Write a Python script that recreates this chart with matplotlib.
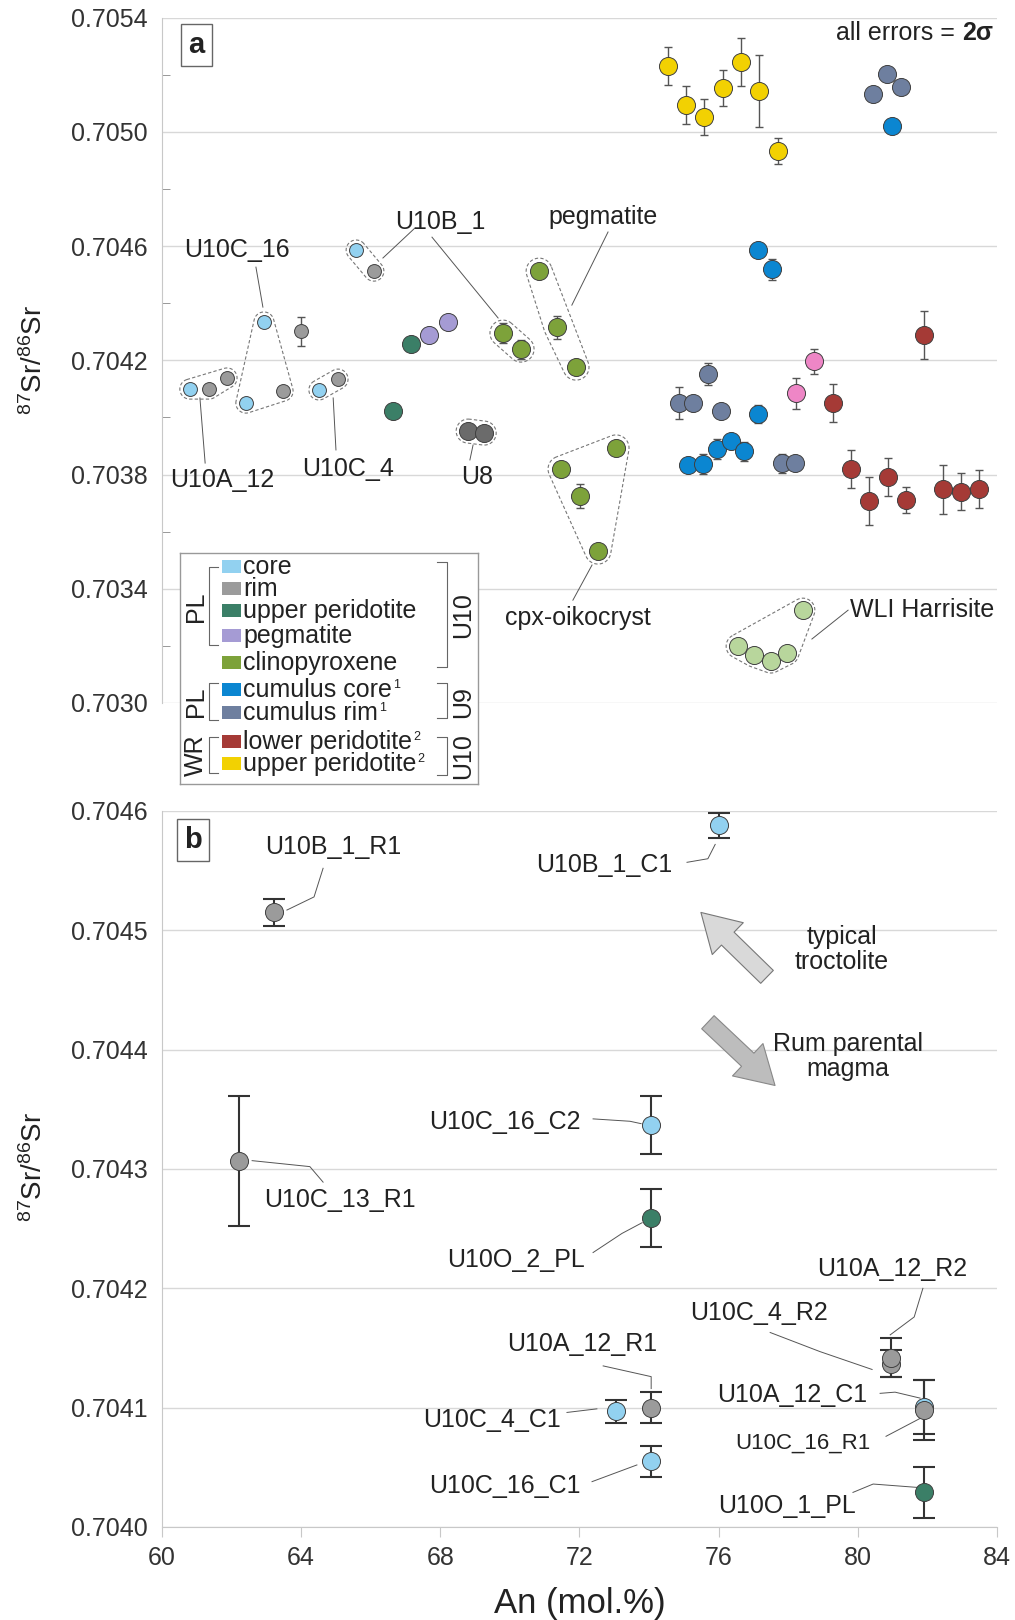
import numpy as np
import matplotlib
matplotlib.use('Agg')
import matplotlib.pyplot as plt
from matplotlib.patches import Rectangle, FancyArrowPatch, ArrowStyle
from matplotlib.ticker import FormatStrFormatter

plt.rcParams.update({'font.family': ['Liberation Sans', 'DejaVu Sans'],
                     'font.size': 18,
                     'mathtext.fontset': 'custom',
                     'mathtext.rm': 'Liberation Sans',
                     'mathtext.it': 'Liberation Sans:italic',
                     'mathtext.bf': 'Liberation Sans:bold',
                     'text.color': '#222222'})

# ---------------- panel a data (An mol.%, 87Sr/86Sr, 2 sigma) ----------------
core_x = [60.80, 62.41, 62.93, 64.51, 65.58]
core_y = [0.704099, 0.704050, 0.704334, 0.704096, 0.704586]
core_e = [0, 0, 0.000010, 0, 0]

rim_x = [61.35, 61.87, 63.48, 64.00, 65.06, 66.09]
rim_y = [0.704099, 0.704138, 0.704092, 0.704302, 0.704134, 0.704512]
rim_e = [0, 0, 0.000008, 0.000051, 0, 0]

uperpl_x = [66.64, 67.16]
uperpl_y = [0.704022, 0.704257]
uperpl_e = [0, 0]

peg_x = [67.67, 68.22]
peg_y = [0.704288, 0.704334]
peg_e = [0, 0]

cpx_x = [69.80, 70.32, 70.84, 71.35, 71.90, 71.47, 72.02, 72.53, 73.05]
cpx_y = [0.704295, 0.704239, 0.704512, 0.704316, 0.704176, 0.703819, 0.703725, 0.703532, 0.703893]
cpx_e = [0.000035, 0.000033, 0, 0.000040, 0, 0, 0.000041, 0, 0]

cumcore_x = [80.98, 77.13, 77.53, 77.13, 75.12, 75.55, 75.95, 76.36, 76.73]
cumcore_y = [0.705020, 0.704586, 0.704519, 0.704012, 0.703833, 0.703837, 0.703889, 0.703917, 0.703882]
cumcore_e = [0, 0, 0.000037, 0.000032, 0, 0.000035, 0.000034, 0, 0.000033]

cumrim_x = [80.44, 80.84, 81.24, 75.70, 74.86, 75.26, 76.07, 77.82, 78.19]
cumrim_y = [0.705132, 0.705202, 0.705157, 0.704152, 0.704050, 0.704050, 0.704022, 0.703840, 0.703840]
cumrim_e = [0, 0, 0, 0.000038, 0.000056, 0, 0, 0.000033, 0]

lowper_x = [81.90, 79.29, 79.80, 80.32, 80.87, 81.39, 82.45, 82.97, 83.48]
lowper_y = [0.704288, 0.704050, 0.703819, 0.703707, 0.703791, 0.703711, 0.703749, 0.703740, 0.703749]
lowper_e = [0.000083, 0.000067, 0.000066, 0.000083, 0.000066, 0.000046, 0.000086, 0.000066, 0.000066]

upper_x = [74.54, 75.06, 75.58, 76.12, 76.64, 77.16, 77.71]
upper_y = [0.705230, 0.705094, 0.705052, 0.705153, 0.705244, 0.705143, 0.704933]
upper_e = [0.000066, 0.000066, 0.000063, 0.000063, 0.000084, 0.000126, 0.000045]

pink_x = [78.74, 78.22]
pink_y = [0.704197, 0.704085]
pink_e = [0.000044, 0.000054]

u8_x = [68.80, 69.26]
u8_y = [0.703952, 0.703945]
u8_e = [0, 0]

wli_x = [76.56, 77.02, 77.50, 77.96, 78.42]
wli_y = [0.703199, 0.703168, 0.703147, 0.703175, 0.703325]
wli_e = [0, 0, 0, 0, 0]

C_CORE, C_RIM, C_TEAL, C_PEG, C_CPX = '#92d1f0', '#9b9b9b', '#3b7f67', '#a59bd4', '#7da23a'
C_CUMC, C_CUMR, C_LOW, C_UP = '#0b86d1', '#6e7f9f', '#a53a36', '#f2d102'
C_PINK, C_U8, C_WLI = '#ee86c6', '#6b6b6b', '#b8d69c'

# ---------------- panel b data ----------------
bcore_lab = ['U10B_1_C1', 'U10C_16_C2', 'U10C_4_C1', 'U10C_16_C1', 'U10A_12_C1']
bcore_x = [76.01, 74.05, 73.05, 74.05, 81.90]
bcore_y = [0.704588, 0.704337, 0.704097, 0.704055, 0.7041005]
bcore_e = [0.0000105, 0.0000245, 0.0000098, 0.0000128, 0.0000225]

brim_lab = ['U10B_1_R1', 'U10C_13_R1', 'U10A_12_R1', 'U10C_4_R2', 'U10A_12_R2', 'U10C_16_R1']
brim_x = [63.22, 62.21, 74.05, 80.95, 80.95, 81.90]
brim_y = [0.704515, 0.704307, 0.704100, 0.704137, 0.704142, 0.704098]
brim_e = [0.000011, 0.0000545, 0.0000128, 0.000011, 0.000016, 0.000025]

bteal_lab = ['U10O_2_PL', 'U10O_1_PL']
bteal_x = [74.05, 81.90]
bteal_y = [0.704259, 0.704029]
bteal_e = [0.000024, 0.0000214]

legend_names = ['core', 'rim', 'upper peridotite', 'pegmatite', 'clinopyroxene',
                'cumulus core', 'cumulus rim', 'lower peridotite', 'upper peridotite']
legend_sup = ['', '', '', '', '', '1', '1', '2', '2']
legend_colors = [C_CORE, C_RIM, C_TEAL, C_PEG, C_CPX, C_CUMC, C_CUMR, C_LOW, C_UP]

W, H = 1015, 1620
fig = plt.figure(figsize=(W / 100, H / 100), dpi=100)
axa = fig.add_axes([162 / W, 1 - 703 / H, 835 / W, 685.5 / H])
axb = fig.add_axes([162 / W, 1 - 1527 / H, 835 / W, 716 / H])


def base_axis(ax, ylo, yhi, step):
    ax.set_xlim(60, 84)
    ax.set_ylim(ylo, yhi)
    n = int(round((yhi - ylo) / step))
    ax.set_yticks([ylo + i * step for i in range(n + 1)])
    ax.yaxis.set_major_formatter(FormatStrFormatter('%.4f'))
    ax.grid(axis='y', color='#d8d8d8', lw=1)
    ax.set_axisbelow(True)
    for s in ['top', 'right']:
        ax.spines[s].set_visible(False)
    ax.spines['left'].set_color('#c8c8c8')
    ax.tick_params(axis='y', length=0, pad=10, labelsize=18, labelcolor='#333333')


def points(ax, x, y, e, color, ms, ecol='#555555', elw=1.0, cap=3.2):
    ax.errorbar(x, y, yerr=e, fmt='none', ecolor=ecol, elinewidth=elw,
                capsize=cap, capthick=elw, zorder=2)
    ax.plot(x, y, 'o', ms=ms, mfc=color, mec='#404040', mew=0.7, zorder=3, clip_on=False)


def hull_outline(ax, xs, ys, r):
    pts = ax.transData.transform(np.column_stack([xs, ys]))
    p = sorted(map(tuple, pts))
    def cross(o, a, b):
        return (a[0] - o[0]) * (b[1] - o[1]) - (a[1] - o[1]) * (b[0] - o[0])
    lower, upper = [], []
    for q in p:
        while len(lower) >= 2 and cross(lower[-2], lower[-1], q) <= 0:
            lower.pop()
        lower.append(q)
    for q in reversed(p):
        while len(upper) >= 2 and cross(upper[-2], upper[-1], q) <= 0:
            upper.pop()
        upper.append(q)
    hull = np.array(lower[:-1] + upper[:-1])
    n = len(hull)
    out = []
    for i in range(n):
        v = hull[i]
        e_in = v - hull[i - 1]
        e_out = hull[(i + 1) % n] - v
        a0 = np.arctan2(-e_in[0], e_in[1])
        a1 = np.arctan2(-e_out[0], e_out[1])
        if a1 < a0:
            a1 += 2 * np.pi
        t = np.linspace(a0, a1, 24)
        out.append(np.column_stack([v[0] + r * np.cos(t), v[1] + r * np.sin(t)]))
    out = np.vstack(out + [out[0][:1]])
    d = ax.transData.inverted().transform(out)
    ax.plot(d[:, 0], d[:, 1], color='#777777', lw=0.8, ls=(0, (3, 2)), zorder=1.5)


# ---------------- panel a ----------------
base_axis(axa, 0.7030, 0.7054, 0.0004)
axa.set_yticks([0.7032 + i * 0.0004 for i in range(6)], minor=True)
axa.tick_params(axis='y', which='minor', direction='in', length=6, color='#888888')
axa.spines['bottom'].set_visible(False)
axa.set_xticks([])

points(axa, core_x, core_y, core_e, C_CORE, 10)
points(axa, rim_x, rim_y, rim_e, C_RIM, 10)
points(axa, uperpl_x, uperpl_y, uperpl_e, C_TEAL, 13)
points(axa, peg_x, peg_y, peg_e, C_PEG, 13)
points(axa, cpx_x, cpx_y, cpx_e, C_CPX, 13)
points(axa, u8_x, u8_y, u8_e, C_U8, 13)
points(axa, upper_x, upper_y, upper_e, C_UP, 13)
points(axa, cumrim_x, cumrim_y, cumrim_e, C_CUMR, 13)
points(axa, cumcore_x, cumcore_y, cumcore_e, C_CUMC, 13)
points(axa, pink_x, pink_y, pink_e, C_PINK, 13)
points(axa, lowper_x, lowper_y, lowper_e, C_LOW, 13)
points(axa, wli_x, wli_y, wli_e, C_WLI, 13)

groups = [
    ([core_x[0], rim_x[0], rim_x[1]], [core_y[0], rim_y[0], rim_y[1]], 10),
    ([core_x[1], core_x[2], rim_x[2]], [core_y[1], core_y[2], rim_y[2]], 10),
    ([core_x[3], rim_x[4]], [core_y[3], rim_y[4]], 10),
    ([core_x[4], rim_x[5]], [core_y[4], rim_y[5]], 10),
    (cpx_x[0:2], cpx_y[0:2], 13),
    (cpx_x[2:5], cpx_y[2:5], 13),
    (cpx_x[5:9], cpx_y[5:9], 13),
    (u8_x, u8_y, 12),
    (wli_x, wli_y, 12),
]
for gx, gy, r in groups:
    hull_outline(axa, gx, gy, r)

# group labels: text, text pos, alignment, leader lines
a_labels = [
    ('U10A_12', (61.72, 0.703781), 'center', [[(61.24, 0.703840), (61.09, 0.704068)]]),
    ('U10C_16', (62.16, 0.704586), 'center', [[(62.70, 0.704526), (62.90, 0.704386)]]),
    ('U10C_4', (65.35, 0.703819), 'center', [[(65.00, 0.703886), (64.92, 0.704068)]]),
    ('U10B_1', (67.99, 0.704684), 'center', [[(67.27, 0.704663), (66.35, 0.704558)],
                                            [(67.76, 0.704631), (69.66, 0.704348)]]),
    ('U8', (69.05, 0.703791), 'center', [[(68.85, 0.703851), (68.94, 0.703903)]]),
    ('pegmatite', (72.68, 0.704701), 'center', [[(72.82, 0.704649), (71.78, 0.704393)]]),
    ('cpx-oikocryst', (71.96, 0.703297), 'center', [[(71.81, 0.703360), (72.36, 0.703483)]]),
    ('WLI Harrisite', (79.78, 0.703325), 'left', [[(79.72, 0.703325), (78.68, 0.703224)]]),
]
for txt, (tx, ty), ha, leaders in a_labels:
    axa.text(tx, ty, txt, ha=ha, va='center', fontsize=18, zorder=4)
    for ld in leaders:
        axa.plot([p[0] for p in ld], [p[1] for p in ld], color='#555555', lw=0.7, zorder=1.8)

t2 = axa.text(0.995, 0.977, '2σ', transform=axa.transAxes, ha='right', va='center',
              fontsize=18, fontweight='bold')
axa.annotate('all errors = ', xy=(0, 0.5), xycoords=t2, ha='right', va='center', fontsize=18)
axa.text(0.041, 0.960, 'a', transform=axa.transAxes, ha='center', va='center', fontsize=21,
         fontweight='bold', bbox=dict(boxstyle='square,pad=0.25', fc='white', ec='#666666', lw=1))

# ---------------- legend (drawn as its own small axes) ----------------
lax = fig.add_axes([180 / W, 1 - 784 / H, 298 / W, 231 / H])
lax.set_xlim(0, 298)
lax.set_ylim(231, 0)
lax.set_xticks([])
lax.set_yticks([])
for s in lax.spines.values():
    s.set_color('#999999')
    s.set_linewidth(1)
row_base = [21, 43, 65, 90, 117, 144, 167, 196, 218]
for name, sup, col, b in zip(legend_names, legend_sup, legend_colors, row_base):
    lax.add_patch(Rectangle((42, b - 14), 19, 13, fc=col, ec='none'))
    t = lax.text(63, b, name, va='baseline', ha='left', fontsize=18)
    if sup:
        lax.annotate(sup, xy=(1, 0.45), xycoords=t, xytext=(1, 0), textcoords='offset points',
                     ha='left', va='bottom', fontsize=9)


def bracket(x, y0, y1, dx):
    lax.plot([x + dx, x, x, x + dx], [y0, y0, y1, y1], color='#666666', lw=0.8)


for y0, y1, lab, ym in [(14, 92, 'PL', 54), (130, 167, 'PL', 149), (184, 220, 'WR', 202)]:
    bracket(29, y0, y1, 9)
    lax.text(16, ym, lab, rotation=90, ha='center', va='center', fontsize=18)
for y0, y1, lab, ym in [(9, 114, 'U10', 62), (130, 165, 'U9', 149), (184, 222, 'U10', 203)]:
    bracket(267, y0, y1, -10)
    lax.text(283, ym, lab, rotation=90, ha='center', va='center', fontsize=18)

# ---------------- panel b ----------------
base_axis(axb, 0.7040, 0.7046, 0.0001)
axb.spines['bottom'].set_color('#c8c8c8')
axb.set_xticks(np.arange(60, 85, 4))
axb.tick_params(axis='x', length=7, color='#c8c8c8', pad=7, labelsize=18, labelcolor='#333333')

points(axb, bcore_x, bcore_y, bcore_e, C_CORE, 13, ecol='#333333', elw=1.5, cap=8)
points(axb, brim_x, brim_y, brim_e, C_RIM, 13, ecol='#333333', elw=1.5, cap=8)
points(axb, bteal_x, bteal_y, bteal_e, C_TEAL, 13, ecol='#333333', elw=1.5, cap=8)

b_labels = {
    'U10B_1_R1': ((64.92, 0.704570), 18, [(64.63, 0.704552), (64.37, 0.704528), (63.59, 0.704517)]),
    'U10B_1_C1': ((72.70, 0.704555), 18, [(75.09, 0.704557), (75.69, 0.704560), (75.90, 0.704572)]),
    'U10C_13_R1': ((65.12, 0.704274), 18, [(62.59, 0.704307), (64.25, 0.704302), (64.63, 0.704289)]),
    'U10C_16_C2': ((69.86, 0.704339), 18, [(72.39, 0.704342), (73.45, 0.704340), (73.77, 0.704338)]),
    'U10O_2_PL': ((70.18, 0.704224), 18, [(72.39, 0.704230), (73.22, 0.704246), (73.80, 0.704255)]),
    'U10A_12_R1': ((72.07, 0.704153), 18, [(72.68, 0.704135), (74.06, 0.704126), (74.06, 0.704116)]),
    'U10C_4_C1': ((69.49, 0.704090), 18, [(71.64, 0.704096), (72.50, 0.704099)]),
    'U10C_16_C1': ((69.86, 0.704034), 18, [(72.36, 0.704038), (73.65, 0.704052)]),
    'U10A_12_R2': ((80.98, 0.704216), 18, [(81.87, 0.704200), (81.62, 0.704176), (80.93, 0.704161)]),
    'U10C_4_R2': ((77.16, 0.704179), 18, [(77.48, 0.704163), (78.91, 0.704147), (80.41, 0.704132)]),
    'U10A_12_C1': ((78.11, 0.704111), 18, [(80.64, 0.704112), (81.07, 0.704113), (81.79, 0.704108)]),
    'U10C_16_R1': ((78.42, 0.704070), 16, [(80.81, 0.704076), (81.79, 0.704091)]),
    'U10O_1_PL': ((77.96, 0.704018), 18, [(79.86, 0.704029), (80.44, 0.704036), (81.79, 0.704033)]),
}
for lab, ((tx, ty), fs, ld) in b_labels.items():
    axb.text(tx, ty, lab, ha='center', va='center', fontsize=fs, zorder=4)
    axb.plot([p[0] for p in ld], [p[1] for p in ld], color='#555555', lw=0.7, zorder=1.8)

arrow_style = ArrowStyle.Simple(head_length=2.7, head_width=3.2, tail_width=1.3)
axb.add_patch(FancyArrowPatch((77.39, 0.704461), (75.49, 0.704515), arrowstyle=arrow_style,
                              mutation_scale=10, fc='#d9d9d9', ec='#777777', lw=0.8,
                              shrinkA=0, shrinkB=0, zorder=2))
axb.add_patch(FancyArrowPatch((75.69, 0.704423), (77.62, 0.704370), arrowstyle=arrow_style,
                              mutation_scale=10, fc='#bdbdbd', ec='#888888', lw=0.8,
                              shrinkA=0, shrinkB=0, zorder=2))
axb.text(79.55, 0.704484, 'typical\ntroctolite', ha='center', va='center', fontsize=18, linespacing=1.05)
axb.text(79.72, 0.704394, 'Rum parental\nmagma', ha='center', va='center', fontsize=18, linespacing=1.05)
axb.text(0.037, 0.9595, 'b', transform=axb.transAxes, ha='center', va='center', fontsize=21,
         fontweight='bold', bbox=dict(boxstyle='square,pad=0.25', fc='white', ec='#666666', lw=1))

# axis titles
fig.text(580 / W, 1 - 1603 / H, 'An (mol.%)', ha='center', va='center', fontsize=25)
for yc in [360, 1167]:
    fig.text(34 / W, 1 - yc / H, '$^{87}$Sr/$^{86}$Sr', rotation=90, ha='center', va='center',
             fontsize=20)

fig.savefig('out.png', dpi=100)
